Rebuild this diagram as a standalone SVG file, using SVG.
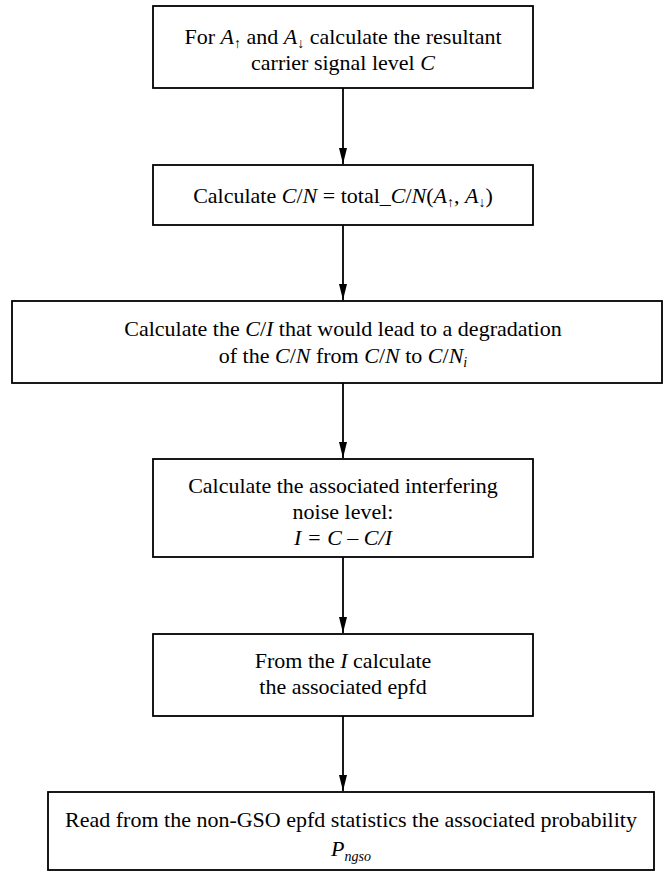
<svg xmlns="http://www.w3.org/2000/svg" width="664" height="875" viewBox="0 0 664 875">
<style>
.box{fill:#fff;stroke:#000;stroke-width:1.8}
.t{font-family:"Liberation Serif","Times New Roman","DejaVu Serif",serif;font-size:22px;fill:#000;text-anchor:middle}
.i{font-style:italic}
.s{font-size:14px}
.c{stroke:#000;stroke-width:1.8;fill:none}
</style>
<defs>
<marker id="ah" markerUnits="userSpaceOnUse" markerWidth="16" markerHeight="8" refX="16" refY="4" orient="auto" viewBox="0 0 16 8">
<path d="M0,0 L16,4 L0,8 Z" fill="#000"/>
</marker>
</defs>
<g id="connectors">
<line class="c" x1="343" y1="88" x2="343" y2="164" marker-end="url(#ah)"/>
<line class="c" x1="343" y1="225" x2="343" y2="300" marker-end="url(#ah)"/>
<line class="c" x1="343" y1="383" x2="343" y2="458" marker-end="url(#ah)"/>
<line class="c" x1="343" y1="557" x2="343" y2="633" marker-end="url(#ah)"/>
<line class="c" x1="343" y1="716" x2="343" y2="791" marker-end="url(#ah)"/>
</g>
<g id="n1">
<rect class="box" x="153" y="6" width="380" height="82"/>
<text class="t" x="343" y="44">For <tspan class="i">A</tspan><tspan class="s" dy="4">↑</tspan><tspan dy="-4"> and </tspan><tspan class="i">A</tspan><tspan class="s" dy="4">↓</tspan><tspan dy="-4"> calculate the resultant</tspan></text>
<text class="t" x="343" y="70">carrier signal level <tspan class="i">C</tspan></text>
</g>
<g id="n2">
<rect class="box" x="153" y="165" width="380" height="60"/>
<text class="t" x="343" y="203">Calculate <tspan class="i">C</tspan>/<tspan class="i">N</tspan> = total_<tspan class="i">C</tspan>/<tspan class="i">N</tspan>(<tspan class="i">A</tspan><tspan class="s" dy="4">↑</tspan><tspan dy="-4">, </tspan><tspan class="i">A</tspan><tspan class="s" dy="4">↓</tspan><tspan dy="-4">)</tspan></text>
</g>
<g id="n3">
<rect class="box" x="12" y="301" width="650" height="82"/>
<text class="t" x="343" y="336">Calculate the <tspan class="i">C</tspan>/<tspan class="i">I</tspan> that would lead to a degradation</text>
<text class="t" x="343" y="363">of the <tspan class="i">C</tspan>/<tspan class="i">N</tspan> from <tspan class="i">C</tspan>/<tspan class="i">N</tspan> to <tspan class="i">C</tspan>/<tspan class="i">N</tspan><tspan class="i s" dy="4">i</tspan></text>
</g>
<g id="n4">
<rect class="box" x="153" y="459" width="380" height="98"/>
<text class="t" x="343" y="493">Calculate the associated interfering</text>
<text class="t" x="343" y="519">noise level:</text>
<text class="t i" x="343" y="545">I = C – C/I</text>
</g>
<g id="n5">
<rect class="box" x="153" y="634" width="380" height="82"/>
<text class="t" x="343" y="668">From the <tspan class="i">I</tspan> calculate</text>
<text class="t" x="343" y="694">the associated epfd</text>
</g>
<g id="n6">
<rect class="box" x="48" y="792" width="606" height="78"/>
<text class="t" x="351" y="827">Read from the non-GSO epfd statistics the associated probability</text>
<text class="t" x="351" y="856"><tspan class="i">P</tspan><tspan class="i s" dy="5">ngso</tspan></text>
</g>
</svg>
